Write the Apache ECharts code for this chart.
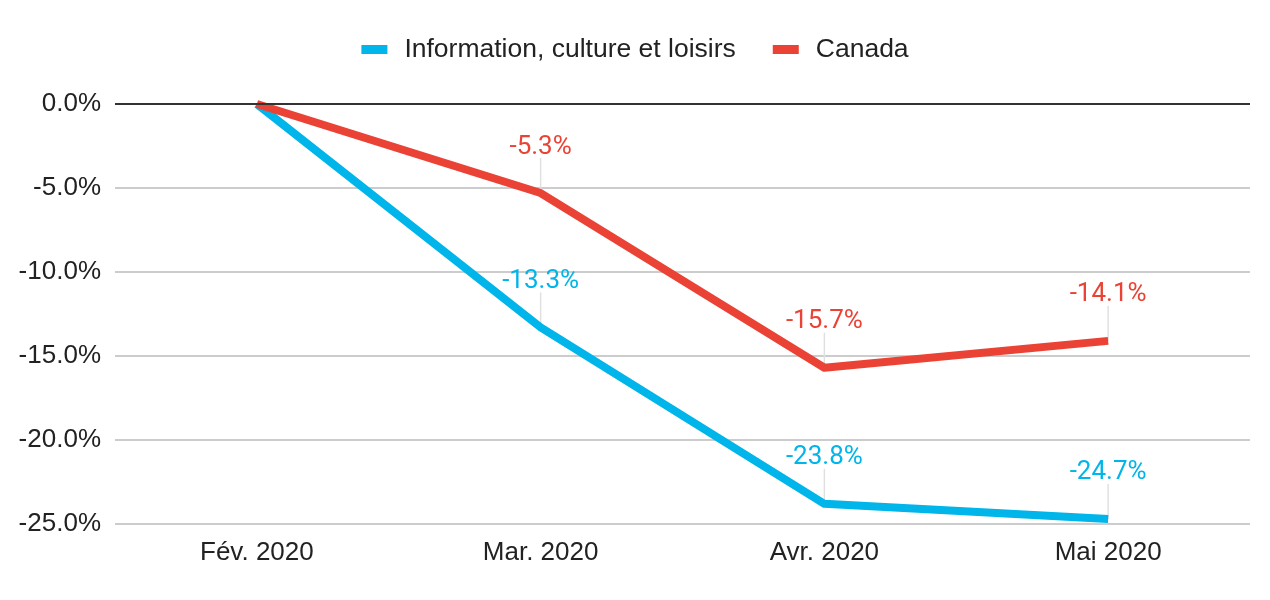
<!DOCTYPE html>
<html><head><meta charset="utf-8">
<script src="https://cdn.jsdelivr.net/npm/echarts@6/dist/echarts.min.js"></script>
<style>html,body{margin:0;padding:0;background:#fff}#c{width:1270px;height:600px}</style>
</head><body><div id="c"></div>
<script>
const categories = ['Fév. 2020', 'Mar. 2020', 'Avr. 2020', 'Mai 2020'];
const infoValues = [0, -13.3, -23.8, -24.7];
const canadaValues = [0, -5.3, -15.7, -14.1];
const seriesNames = ['Information, culture et loisirs', 'Canada'];
const blue = '#00b5e9', red = '#ea4335';
const fmt = v => v.toFixed(1) + '%';

function leaders(vals) {
  return {
    type: 'custom', silent: true, z: 1,
    data: vals.map((v, i) => [i, v]),
    renderItem: (params, api) => {
      const i = api.value(0), v = api.value(1);
      if (v === 0) return null;
      const p = api.coord([i, v]);
      return { type: 'line', shape: { x1: p[0], y1: p[1], x2: p[0], y2: p[1] - 35 },
        style: { stroke: '#e0e0e0', lineWidth: 1.5 } };
    }
  };
}
function labels(vals, color) {
  return {
    type: 'custom', silent: true, z: 6,
    data: vals.map((v, i) => [i, v]),
    renderItem: (params, api) => {
      const i = api.value(0), v = api.value(1);
      if (v === 0) return null;
      const p = api.coord([i, v]);
      return { type: 'text', style: { x: p[0], y: p[1] - 46, text: fmt(v), fill: color,
        font: '26px Roboto', textAlign: 'center', textVerticalAlign: 'middle' } };
    }
  };
}
function lineSeries(name, vals, color) {
  return {
    name, type: 'line', data: vals, showSymbol: false, symbol: 'none', z: 3,
    lineStyle: { width: 8, color, cap: 'butt', join: 'round' }, itemStyle: { color }
  };
}
const chart = echarts.init(document.getElementById('c'));
chart.setOption({
  animation: false,
  legend: { data: seriesNames.map((n, i) => ({ name: n, itemStyle: { color: i ? red : blue } })),
    top: 31, left: 'center', itemWidth: 26, itemHeight: 9, itemGap: 37, icon: 'rect',
    textStyle: { fontFamily: 'Liberation Sans, Arial', fontSize: 26.5, color: '#222', padding: [0, 0, 0, 12] } },
  grid: { left: 115, right: 20, top: 104, bottom: 76 },
  xAxis: { type: 'category', data: categories, boundaryGap: true,
    axisLine: { show: false }, axisTick: { show: false },
    axisLabel: { fontFamily: 'Liberation Sans, Arial', fontSize: 26, color: '#222', margin: 16 } },
  yAxis: { type: 'value', min: -25, max: 0, interval: 5,
    axisLine: { show: false }, axisTick: { show: false },
    axisLabel: { formatter: v => fmt(v), fontFamily: 'Liberation Sans, Arial', fontSize: 26, color: '#222', margin: 14, padding: [4, 0, 0, 0] },
    splitLine: { lineStyle: { color: '#cccccc', width: 2 } } },
  series: [
    leaders(infoValues), leaders(canadaValues),
    lineSeries(seriesNames[0], infoValues, blue),
    lineSeries(seriesNames[1], canadaValues, red),
    labels(infoValues, blue), labels(canadaValues, red),
    { type: 'line', data: [], markLine: { silent: true, symbol: 'none', label: { show: false },
      lineStyle: { color: '#333', width: 2, type: 'solid' }, data: [{ yAxis: 0 }] } }
  ]
});
</script></body></html>
